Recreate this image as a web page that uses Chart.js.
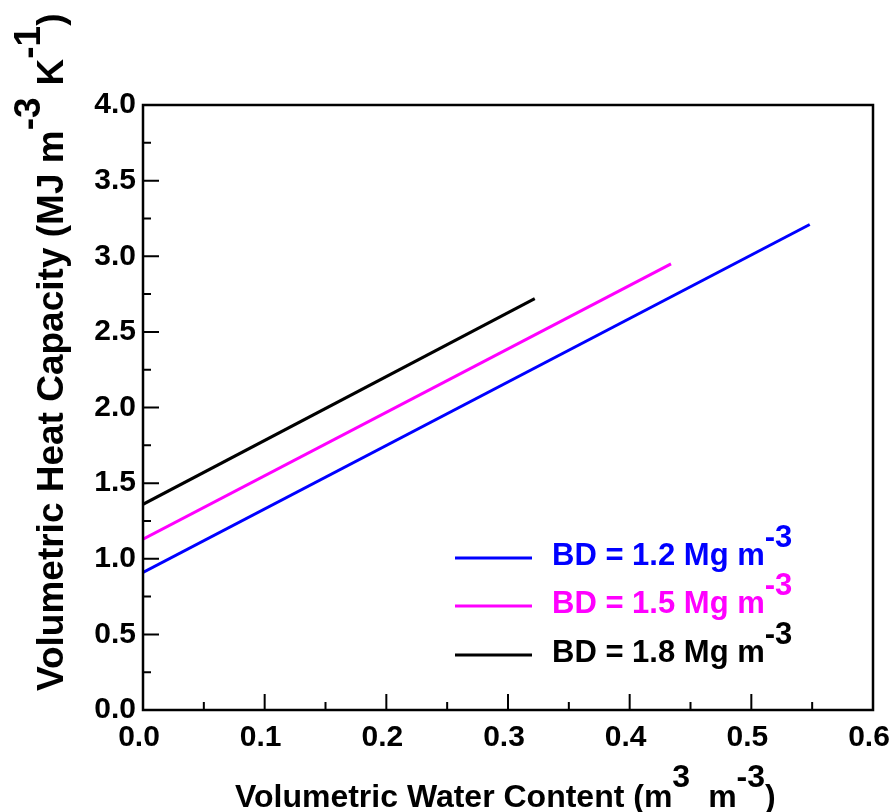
<!DOCTYPE html>
<html>
<head>
<meta charset="utf-8">
<title>Volumetric heat capacity</title>
<script src="https://cdn.jsdelivr.net/npm/chart.js@4.4.1/dist/chart.umd.min.js"></script>
<style>
  body { margin: 0; background: #ffffff; }
  canvas { display: block; }
</style>
</head>
<body>
<canvas id="chart" width="893" height="812"></canvas>
<script>
// water content (m3 m-3) and heat capacity (MJ m-3 K-1) at each bulk density
const bd12Water = [0.0, 0.548];
const bd12Heat = [0.91, 3.21];
const bd15Water = [0.0, 0.434];
const bd15Heat = [1.13, 2.95];
const bd18Water = [0.0, 0.322];
const bd18Heat = [1.36, 2.72];

const seriesLabels = ["BD = 1.2 Mg m", "BD = 1.5 Mg m", "BD = 1.8 Mg m"];
const seriesColors = ["#0000ff", "#ff00ff", "#000000"];

const xTicks = [0.0, 0.1, 0.2, 0.3, 0.4, 0.5, 0.6];
const yTicks = [0.0, 0.5, 1.0, 1.5, 2.0, 2.5, 3.0, 3.5, 4.0];

const FONT = "'Liberation Sans', Arial, sans-serif";

function toPoints(xs, ys) {
    return xs.map((x, i) => ({ x: x, y: ys[i] }));
}

// draws a run of text pieces, some lifted as superscripts
function drawRich(ctx, parts, x, y, size) {
    ctx.font = "bold " + size + "px " + FONT;
    ctx.textBaseline = "alphabetic";
    ctx.textAlign = "left";
    let cx = x;
    parts.forEach(p => {
        cx += p.gap || 0;
        ctx.fillText(p.text, cx, y - (p.raise || 0));
        cx += ctx.measureText(p.text).width;
    });
}

const frame = {
    id: "frame",
    afterDraw(chart) {
        const ctx = chart.ctx;
        const area = chart.chartArea;
        const xs = chart.scales.x;
        const ys = chart.scales.y;
        ctx.save();

        // box around the plot
        ctx.strokeStyle = "#000";
        ctx.lineWidth = 2.5;
        ctx.strokeRect(area.left, area.top, area.right - area.left, area.bottom - area.top);

        // inward ticks, long on labelled values, short halfway between
        ctx.lineWidth = 2;
        ctx.beginPath();
        for (let i = 0; i < xTicks.length; i++) {
            const px = xs.getPixelForValue(xTicks[i]);
            ctx.moveTo(px, area.bottom);
            ctx.lineTo(px, area.bottom - 16);
            if (i < xTicks.length - 1) {
                const mx = xs.getPixelForValue((xTicks[i] + xTicks[i + 1]) / 2);
                ctx.moveTo(mx, area.bottom);
                ctx.lineTo(mx, area.bottom - 8);
            }
        }
        for (let i = 0; i < yTicks.length; i++) {
            const py = ys.getPixelForValue(yTicks[i]);
            ctx.moveTo(area.left, py);
            ctx.lineTo(area.left + 16, py);
            if (i < yTicks.length - 1) {
                const my = ys.getPixelForValue((yTicks[i] + yTicks[i + 1]) / 2);
                ctx.moveTo(area.left, my);
                ctx.lineTo(area.left + 8, my);
            }
        }
        ctx.stroke();

        // legend
        const legendY = [558, 606, 655];
        seriesLabels.forEach((label, i) => {
            ctx.strokeStyle = seriesColors[i];
            ctx.lineWidth = 3;
            ctx.beginPath();
            ctx.moveTo(455, legendY[i]);
            ctx.lineTo(532, legendY[i]);
            ctx.stroke();
            ctx.fillStyle = seriesColors[i];
            drawRich(ctx, [
                { text: label },
                { text: "-3", raise: 18 }
            ], 552, legendY[i] + 7, 31);
        });

        // axis titles
        ctx.fillStyle = "#000";
        drawRich(ctx, [
            { text: "Volumetric Water Content (m" },
            { text: "3", raise: 20 },
            { text: "m", gap: 18 },
            { text: "-3", raise: 20 },
            { text: ")" }
        ], 235, 807, 32);

        ctx.translate(63, 691);
        ctx.rotate(-Math.PI / 2);
        drawRich(ctx, [
            { text: "Volumetric Heat Capacity (MJ m" },
            { text: "-3", raise: 23 },
            { text: "K", gap: 12 },
            { text: "-1", raise: 23 },
            { text: ")" }
        ], 0, 0, 37);

        ctx.restore();
    }
};

const ctx = document.getElementById("chart").getContext("2d");
new Chart(ctx, {
    type: "line",
    data: {
        datasets: [
            { label: seriesLabels[0], data: toPoints(bd12Water, bd12Heat), borderColor: seriesColors[0] },
            { label: seriesLabels[1], data: toPoints(bd15Water, bd15Heat), borderColor: seriesColors[1] },
            { label: seriesLabels[2], data: toPoints(bd18Water, bd18Heat), borderColor: seriesColors[2] }
        ]
    },
    options: {
        responsive: false,
        animation: false,
        layout: { padding: { top: 105, right: 20, left: 0, bottom: 0 } },
        elements: {
            line: { borderWidth: 3, tension: 0 },
            point: { radius: 0 }
        },
        plugins: {
            legend: { display: false },
            tooltip: { enabled: false }
        },
        scales: {
            x: {
                type: "linear",
                min: 0,
                max: 0.6,
                afterFit: s => {
                    s.height = 102;
                    s.paddingLeft = 0;
                    s.paddingRight = 0;
                },
                afterBuildTicks: s => { s.ticks = xTicks.map(v => ({ value: v })); },
                grid: { display: false, drawTicks: false },
                border: { display: false },
                ticks: {
                    color: "#000",
                    padding: 10,
                    labelOffset: -4,
                    maxRotation: 0,
                    font: { family: FONT, size: 30, weight: "bold" },
                    callback: v => v.toFixed(1)
                }
            },
            y: {
                type: "linear",
                min: 0,
                max: 4,
                afterFit: s => {
                    s.width = 143;
                    s.paddingTop = 0;
                    s.paddingBottom = 0;
                },
                afterBuildTicks: s => { s.ticks = yTicks.map(v => ({ value: v })); },
                grid: { display: false, drawTicks: false },
                border: { display: false },
                ticks: {
                    color: "#000",
                    padding: 7,
                    font: { family: FONT, size: 30, weight: "bold" },
                    callback: v => v.toFixed(1)
                }
            }
        }
    },
    plugins: [frame]
});
</script>
</body>
</html>
